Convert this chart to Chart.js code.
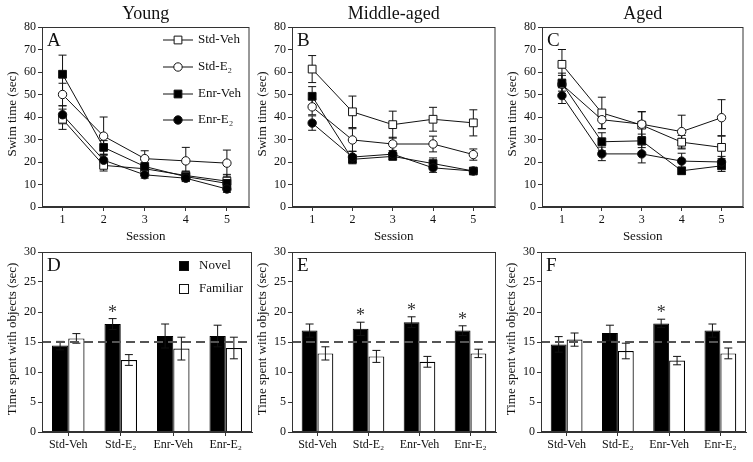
<!DOCTYPE html>
<html>
<head>
<meta charset="utf-8">
<script src="https://cdn.jsdelivr.net/npm/chart.js@4/dist/chart.umd.min.js"></script>
<style>
  body { margin: 0; background: #fff; }
  #wrap { position: relative; width: 753px; height: 462px; overflow: hidden; }
  canvas { position: absolute; }
</style>
</head>
<body>
<div id="wrap"></div>
<script>
// data
const sessions = [1, 2, 3, 4, 5];
const groups = ['Std-Veh', 'Std-E\u2082', 'Enr-Veh', 'Enr-E\u2082'];
const ages = ['Young', 'Middle-aged', 'Aged'];
const swimTicks = [0, 10, 20, 30, 40, 50, 60, 70, 80];
const objectTicks = [0, 5, 10, 15, 20, 25, 30];
const chanceLevel = 15;

// swim time (sec), rows: Std-Veh, Std-E2, Enr-Veh, Enr-E2
const youngMeans = [
  [39, 18.5, 17, 14, 11.5],
  [50, 31.5, 21.5, 20.5, 19.5],
  [59, 26.5, 18, 13.5, 10.5],
  [41, 20.8, 14.3, 12.8, 8]
];
const youngErrs = [
  [4.5, 2.5, 2, 2, 3],
  [5, 8.5, 3.5, 6, 5.8],
  [8.5, 3, 3, 2, 2.5],
  [4, 2.5, 1.5, 1.5, 1.5]
];
const middleMeans = [
  [61.3, 42.3, 36.6, 39, 37.4],
  [44.5, 29.8, 28, 28, 23.3],
  [49.2, 21.2, 22.5, 19.3, 16],
  [37.3, 22.2, 23.5, 17.4, 16]
];
const middleErrs = [
  [6, 7, 6, 5.3, 5.8],
  [3.5, 5, 3, 3.5, 2.5],
  [4.3, 2, 1.5, 2.5, 1.2],
  [3.2, 2.5, 1.5, 2, 1]
];
const agedMeans = [
  [63.4, 41.8, 36.4, 28.8, 26.5],
  [54.5, 38.8, 36.8, 33.5, 39.7],
  [55, 29, 29.4, 16.1, 18.3],
  [49.5, 23.6, 23.6, 20.4, 20]
];
const agedErrs = [
  [6.6, 7, 6, 3, 5],
  [5, 4, 5.5, 7.3, 8],
  [3.5, 4, 3, 1.5, 2.5],
  [3.5, 3, 4, 3.5, 2.5]
];

// time spent with objects (sec)
const novelD = [14.4, 18, 16, 16];
const novelDErr = [0.7, 0.9, 2, 1.8];
const familiarD = [15.6, 12, 13.9, 14];
const familiarDErr = [0.8, 0.9, 1.9, 1.8];
const starsD = [false, true, false, false];

const novelE = [16.9, 17.2, 18.3, 16.9];
const novelEErr = [1.1, 1.1, 0.9, 0.8];
const familiarE = [13.1, 12.6, 11.7, 13.1];
const familiarEErr = [1.1, 1.0, 0.9, 0.7];
const starsE = [false, true, true, true];

const novelF = [14.6, 16.5, 18.1, 16.9];
const novelFErr = [1.3, 1.3, 0.7, 1.1];
const familiarF = [15.4, 13.5, 11.9, 13.1];
const familiarFErr = [1.1, 1.3, 0.7, 0.9];
const starsF = [false, false, true, false];

const FONT = "'Liberation Serif', 'Times New Roman', serif";
const INK = '#111';
const wrap = document.getElementById('wrap');

// marker styles for the four groups
const markers = [
  { pointStyle: 'rect', radius: 5.5, fill: '#fff' },
  { pointStyle: 'circle', radius: 4.2, fill: '#fff' },
  { pointStyle: 'rect', radius: 5.5, fill: '#000' },
  { pointStyle: 'circle', radius: 4.2, fill: '#000' }
];

function drawMarker(ctx, m, x, y) {
  ctx.beginPath();
  if (m.pointStyle === 'rect') {
    const s = Math.SQRT1_2 * m.radius;
    ctx.rect(x - s, y - s, 2 * s, 2 * s);
  } else {
    ctx.arc(x, y, m.radius, 0, Math.PI * 2);
  }
  ctx.fillStyle = m.fill;
  ctx.fill();
  ctx.lineWidth = 1;
  ctx.strokeStyle = INK;
  ctx.stroke();
}

function errorBar(ctx, x, yTop, yBot, cap) {
  ctx.beginPath();
  ctx.moveTo(x, yTop); ctx.lineTo(x, yBot);
  ctx.moveTo(x - cap, yTop); ctx.lineTo(x + cap, yTop);
  ctx.moveTo(x - cap, yBot); ctx.lineTo(x + cap, yBot);
  ctx.stroke();
}

const decor = {
  id: 'decor',
  beforeDatasetsDraw(chart, args, opts) {
    if (opts.kind !== 'line') return;
    const ctx = chart.ctx, y = chart.scales.y;
    ctx.save();
    ctx.strokeStyle = INK;
    ctx.lineWidth = 1;
    chart.data.datasets.forEach((ds, i) => {
      const meta = chart.getDatasetMeta(i);
      ds.errs.forEach((e, j) => {
        const v = ds.data[j].y;
        errorBar(ctx, meta.data[j].x, y.getPixelForValue(v + e), y.getPixelForValue(v - e), 4);
      });
    });
    ctx.restore();
  },
  afterDatasetsDraw(chart, args, opts) {
    if (opts.kind !== 'bar') return;
    const ctx = chart.ctx, y = chart.scales.y, area = chart.chartArea;
    ctx.save();
    ctx.strokeStyle = INK;
    ctx.lineWidth = 1;
    chart.data.datasets.forEach((ds, i) => {
      const meta = chart.getDatasetMeta(i);
      ds.errs.forEach((e, j) => {
        const v = ds.data[j];
        errorBar(ctx, meta.data[j].x, y.getPixelForValue(v + e), y.getPixelForValue(v - e), 4);
      });
    });
    // chance line
    ctx.strokeStyle = '#555';
    ctx.lineWidth = 2;
    ctx.setLineDash([9, 5]);
    const yc = y.getPixelForValue(chanceLevel);
    ctx.beginPath();
    ctx.moveTo(area.left, yc); ctx.lineTo(area.right, yc);
    ctx.stroke();
    ctx.setLineDash([]);
    // significance stars
    const nov = chart.data.datasets[0];
    const meta = chart.getDatasetMeta(0);
    ctx.fillStyle = '#333';
    ctx.font = '18px ' + FONT;
    ctx.textAlign = 'center';
    ctx.textBaseline = 'alphabetic';
    opts.stars.forEach((s, j) => {
      if (!s) return;
      const top = y.getPixelForValue(nov.data[j] + nov.errs[j]);
      ctx.fillText('*', meta.data[j].x, top - 1);
    });
    ctx.restore();
  },
  afterDraw(chart, args, opts) {
    const ctx = chart.ctx, a = chart.chartArea;
    ctx.save();
    ctx.strokeStyle = '#333';
    ctx.lineWidth = 1;
    ctx.strokeRect(a.left + 0.5, a.top + 0.5, a.right - a.left - 1, a.bottom - a.top - 1);
    ctx.fillStyle = INK;
    ctx.textBaseline = 'middle';
    if (opts.title) {
      ctx.font = '18px ' + FONT;
      ctx.textAlign = 'center';
      ctx.fillText(opts.title, (a.left + a.right) / 2, 14);
    }
    // panel letter
    ctx.font = '19px ' + FONT;
    ctx.textAlign = 'left';
    ctx.textBaseline = 'alphabetic';
    ctx.fillText(opts.letter, a.left + 5, a.top + 19);
    // axis titles
    ctx.textBaseline = 'middle';
    ctx.textAlign = 'center';
    ctx.font = '13px ' + FONT;
    if (opts.xTitle) ctx.fillText(opts.xTitle, (a.left + a.right) / 2, 237);
    ctx.save();
    ctx.translate(13, (a.top + a.bottom) / 2 - 3);
    ctx.rotate(-Math.PI / 2);
    ctx.fillText(opts.yTitle, 0, 0);
    ctx.restore();
    // legends
    ctx.textAlign = 'left';
    if (opts.legend === 'line') {
      const rows = [40, 67, 94, 120];
      chart.data.datasets.forEach((ds, i) => {
        const yy = rows[i];
        ctx.strokeStyle = INK;
        ctx.lineWidth = 1;
        ctx.beginPath();
        ctx.moveTo(a.left + 121, yy); ctx.lineTo(a.left + 151, yy);
        ctx.stroke();
        drawMarker(ctx, markers[i], a.left + 136, yy);
        ctx.fillStyle = INK;
        ctx.font = '13px ' + FONT;
        ctx.fillText(ds.label, a.left + 156, yy);
      });
    } else if (opts.legend === 'bar') {
      const rows = [41, 64];
      chart.data.datasets.forEach((ds, i) => {
        ctx.fillStyle = ds.backgroundColor;
        ctx.fillRect(a.left + 137, rows[i] - 5, 10, 10);
        ctx.strokeStyle = INK;
        ctx.lineWidth = 1;
        ctx.strokeRect(a.left + 137.5, rows[i] - 4.5, 9, 9);
        ctx.fillStyle = INK;
        ctx.font = '13px ' + FONT;
        ctx.fillText(ds.label, a.left + 157, rows[i]);
      });
    }
    ctx.restore();
  }
};

function makeCanvas(left, top, width, height) {
  const c = document.createElement('canvas');
  c.width = width; c.height = height;
  c.style.left = left + 'px'; c.style.top = top + 'px';
  c.style.width = width + 'px'; c.style.height = height + 'px';
  wrap.appendChild(c);
  return c;
}

function axisStyle() {
  return {
    border: { display: true, color: '#333', width: 1 },
    grid: { display: true, drawOnChartArea: false, drawTicks: true, tickLength: 4, color: '#333', offset: false },
    ticks: { color: INK, font: { family: FONT, size: 12 }, padding: 2 }
  };
}

function swimChart(plotLeft, plotRight, title, letter, means, errs, legend) {
  const canvas = makeCanvas(plotLeft - 42, 0, plotRight + 4 - (plotLeft - 42), 245);
  const xAxis = axisStyle(), yAxis = axisStyle();
  return new Chart(canvas, {
    type: 'line',
    data: {
      datasets: means.map((m, i) => ({
        label: groups[i],
        data: sessions.map((s, j) => ({ x: s, y: m[j] })),
        errs: errs[i],
        order: 3 - i,
        borderColor: INK,
        borderWidth: 1,
        pointStyle: markers[i].pointStyle,
        pointRadius: markers[i].radius,
        pointBackgroundColor: markers[i].fill,
        pointBorderColor: INK,
        pointBorderWidth: 1
      }))
    },
    options: {
      responsive: false,
      animation: false,
      devicePixelRatio: 1,
      layout: { padding: { left: 0, right: 4, top: 27, bottom: 0 } },
      plugins: {
        legend: { display: false },
        tooltip: { enabled: false },
        decor: { kind: 'line', title, letter, xTitle: 'Session', yTitle: 'Swim time (sec)', legend }
      },
      scales: {
        x: Object.assign(xAxis, {
          type: 'linear', min: 0.5, max: 5.55,
          afterBuildTicks: (ax) => { ax.ticks = sessions.map(v => ({ value: v })); },
          afterFit: (ax) => { ax.height = 38; }
        }),
        y: Object.assign(yAxis, {
          min: 0, max: 80,
          afterBuildTicks: (ax) => { ax.ticks = swimTicks.map(v => ({ value: v })); },
          afterFit: (ax) => { ax.width = 42; }
        })
      }
    },
    plugins: [decor]
  });
}

function objectChart(plotLeft, plotRight, letter, novel, novelErr, familiar, familiarErr, stars, legend) {
  const canvas = makeCanvas(plotLeft - 42, 225, plotRight + 4 - (plotLeft - 42), 237);
  const xAxis = axisStyle(), yAxis = axisStyle();
  return new Chart(canvas, {
    type: 'bar',
    data: {
      labels: groups,
      datasets: [
        { label: 'Novel', data: novel, errs: novelErr, backgroundColor: '#000', borderColor: '#000', borderWidth: 1 },
        { label: 'Familiar', data: familiar, errs: familiarErr, backgroundColor: '#fff', borderColor: '#000', borderWidth: 1.2 }
      ]
    },
    options: {
      responsive: false,
      animation: false,
      devicePixelRatio: 1,
      categoryPercentage: 0.62,
      barPercentage: 1,
      layout: { padding: { left: 0, right: 4, top: 27, bottom: 0 } },
      plugins: {
        legend: { display: false },
        tooltip: { enabled: false },
        decor: { kind: 'bar', letter, yTitle: 'Time spent with objects (sec)', legend, stars }
      },
      scales: {
        x: Object.assign(xAxis, {
          afterFit: (ax) => { ax.height = 30; }
        }),
        y: Object.assign(yAxis, {
          min: 0, max: 30,
          afterBuildTicks: (ax) => { ax.ticks = objectTicks.map(v => ({ value: v })); },
          afterFit: (ax) => { ax.width = 42; }
        })
      }
    },
    plugins: [decor]
  });
}

swimChart(42, 252, ages[0], 'A', youngMeans, youngErrs, 'line');
swimChart(292, 498, ages[1], 'B', middleMeans, middleErrs, null);
swimChart(542, 746, ages[2], 'C', agedMeans, agedErrs, null);

objectChart(42, 252, 'D', novelD, novelDErr, familiarD, familiarDErr, starsD, 'bar');
objectChart(292, 496, 'E', novelE, novelEErr, familiarE, familiarEErr, starsE, null);
objectChart(541, 746, 'F', novelF, novelFErr, familiarF, familiarFErr, starsF, null);
</script>
</body>
</html>
